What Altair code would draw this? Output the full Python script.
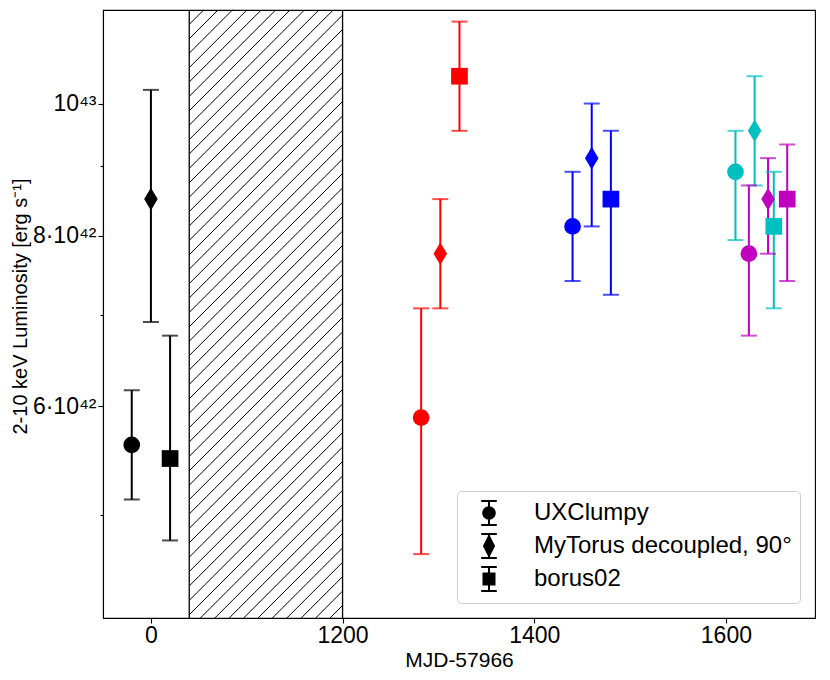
import altair as alt
import numpy as np
import pandas as pd

# ---------------- data ----------------
models = ["UXClumpy", "MyTorus decoupled, 90°", "borus02"]
epoch_days = [0, 1302, 1460, 1630, 1644]          # MJD-57966 of each epoch
epoch_colors = ["#000000", "#ff0000", "#0000ff", "#00bfbf", "#bf00bf"]
model_dodge_days = [-20, 0, 20]                   # small x dodge per model

# log10 of 2-10 keV luminosity, rows = epochs, cols = models
log_lum = [
    [42.75, 42.93, 42.74],
    [42.77, 42.89, 43.02],
    [42.91, 42.96, 42.93],
    [42.95, 42.98, 42.91],
    [42.89, 42.93, 42.93],
]
log_lum_hi = [
    [42.79, 43.01, 42.83],
    [42.85, 42.93, 43.06],
    [42.95, 43.00, 42.98],
    [42.98, 43.02, 42.95],
    [42.94, 42.96, 42.97],
]
log_lum_lo = [
    [42.71, 42.84, 42.68],
    [42.67, 42.85, 42.98],
    [42.87, 42.91, 42.86],
    [42.90, 42.94, 42.85],
    [42.83, 42.89, 42.87],
]

# broken x axis: early epoch shown shifted, the gap is hatched
BREAK_SHIFT = 1000
GAP = [1040, 1200]
x_tick_values = [1000, 1200, 1400, 1600]
x_tick_labels = ["0", "1200", "1400", "1600"]

# ---------------- layout ----------------
W, H = 712, 608
X_DOMAIN = [950, 1693]
LOG_DOMAIN = [42.6232, 43.0685]
Y_DOMAIN = [10 ** LOG_DOMAIN[0], 10 ** LOG_DOMAIN[1]]
FONT = "Liberation Sans"

rows = []
for e, day in enumerate(epoch_days):
    for m, name in enumerate(models):
        x = day + model_dodge_days[m]
        if day < GAP[0]:
            x += BREAK_SHIFT
        rows.append(dict(
            x=x, lum=10 ** log_lum[e][m], hi=10 ** log_lum_hi[e][m],
            lo=10 ** log_lum_lo[e][m], color=epoch_colors[e], model=name,
        ))
df = pd.DataFrame(rows)

# hatch lines ("/") inside the gap, 45 deg on screen
sx = W / (X_DOMAIN[1] - X_DOMAIN[0])
X0 = (GAP[0] - X_DOMAIN[0]) * sx
X1 = (GAP[1] - X_DOMAIN[0]) * sx
spacing = 14.4


def to_data(px, py):
    return (X_DOMAIN[0] + px / sx,
            10 ** (LOG_DOMAIN[0] + py / H * (LOG_DOMAIN[1] - LOG_DOMAIN[0])))


hatch = []
c = X0 - H
while c < X1:
    ps = max(X0, c)
    pe = min(X1, c + H)
    if pe > ps:
        xa, ya = to_data(ps, ps - c)
        xb, yb = to_data(pe, pe - c)
        hatch.append(dict(x=xa, y=ya, x2=xb, y2=yb))
    c += spacing
hatch_df = pd.DataFrame(hatch)
gap_df = pd.DataFrame({"x": GAP})

xs = alt.Scale(domain=X_DOMAIN, nice=False, zero=False)
ys = alt.Scale(type="log", domain=Y_DOMAIN, nice=False)

label_expr_x = "{" + ",".join(f"'{v}':'{l}'" for v, l in zip(x_tick_values, x_tick_labels)) + "}[datum.value]"

x_axis = alt.Axis(
    values=x_tick_values, labelExpr=label_expr_x, title="MJD-57966",
    grid=False, tickSize=5, labelPadding=1, titlePadding=2,
)
y_axis = alt.Axis(
    values=[5e42, 6e42, 7e42, 8e42, 9e42, 1e43],
    labelExpr="round(datum.value/1e41)==100 ? '10⁴³' : (round(datum.value/1e41)%20==0 ? round(datum.value/1e42)+'·10⁴²' : '')",
    title="2-10 keV Luminosity [erg s⁻¹]",
    grid=False,
    tickSize={"condition": {"test": "round(datum.value/1e41)%20==0", "value": 5}, "value": 3},
    labelPadding=2,
    titleX=-76.5, titleY=296, titleAngle=270, titleAlign="center",
    titleBaseline="alphabetic", titleFontSize=20,
)

hatch_layer = alt.Chart(hatch_df).mark_rule(color="black", strokeWidth=1).encode(
    x=alt.X("x:Q", scale=xs, axis=x_axis), x2="x2:Q",
    y=alt.Y("y:Q", scale=ys, axis=y_axis), y2="y2:Q",
)
gap_edges = alt.Chart(gap_df).mark_rule(color="black", strokeWidth=1.3).encode(
    x=alt.X("x:Q", scale=xs),
)
bars = alt.Chart(df).mark_rule(strokeWidth=2).encode(
    x=alt.X("x:Q", scale=xs), y=alt.Y("lo:Q", scale=ys), y2="hi:Q",
    color=alt.Color("color:N", scale=None),
)
cap_lo = alt.Chart(df).mark_tick(orient="horizontal", size=16, thickness=2).encode(
    x=alt.X("x:Q", scale=xs), y=alt.Y("lo:Q", scale=ys),
    color=alt.Color("color:N", scale=None),
)
cap_hi = alt.Chart(df).mark_tick(orient="horizontal", size=16, thickness=2).encode(
    x=alt.X("x:Q", scale=xs), y=alt.Y("hi:Q", scale=ys),
    color=alt.Color("color:N", scale=None),
)
DIAMOND = "M0,-1.35L0.81,0L0,1.35L-0.81,0Z"
points = alt.Chart(df).mark_point(filled=True, size=279, opacity=1).encode(
    x=alt.X("x:Q", scale=xs), y=alt.Y("lum:Q", scale=ys),
    color=alt.Color("color:N", scale=None),
    shape=alt.Shape("model:N", scale=alt.Scale(domain=models, range=["circle", DIAMOND, "square"]), legend=None),
)

# legend glyphs: error-bar stem + caps (as filled shapes) + marker
BAR = ("M-0.077,-1L0.077,-1L0.077,1L-0.077,1Z"
       "M-0.6,-1L0.6,-1L0.6,-0.85L-0.6,-0.85Z"
       "M-0.6,0.85L0.6,0.85L0.6,1L-0.6,1Z")
LEG_PATHS = [
    BAR + "M-0.52,0A0.52,0.52,0,1,1,0.52,0A0.52,0.52,0,1,1,-0.52,0Z",
    BAR + "M0,-0.92L0.47,0L0,0.92L-0.47,0Z",
    BAR + "M-0.5,-0.5L0.5,-0.5L0.5,0.5L-0.5,0.5Z",
]
legend_df = pd.DataFrame({"legend_model": models})
legend_layer = alt.Chart(legend_df).mark_point(
    filled=True, fill="black", opacity=0
).encode(
    x=alt.value(0), y=alt.value(0),
    shape=alt.Shape(
        "legend_model:N",
        scale=alt.Scale(domain=models, range=LEG_PATHS),
        legend=alt.Legend(
            title=None, orient="none", legendX=354, legendY=481,
            padding=8, cornerRadius=4, strokeColor="#cccccc", fillColor="white",
            symbolSize=676, symbolFillColor="black",
            symbolOpacity=1, symbolOffset=10, labelOffset=31,
            labelFont=FONT, labelFontSize=24, labelColor="black", rowPadding=1,
            labelLimit=400,
        ),
    ),
)

chart = alt.layer(
    hatch_layer, gap_edges, bars, cap_lo, cap_hi, points, legend_layer
).resolve_scale(shape="independent").properties(
    width=W, height=H,
    background="white",
    autosize=alt.AutoSizeParams(type="none"),
    padding={"left": 95, "top": 2, "right": 7, "bottom": 52},
).configure_view(
    stroke="black", strokeWidth=1.1
).configure_axis(
    labelFont=FONT, titleFont=FONT, labelFontSize=23, titleFontSize=21,
    labelColor="black", titleColor="black", titleFontWeight="normal",
    domainColor="black", domainWidth=1.1, tickColor="black", tickWidth=1.1,
)

chart.save("out.html", embed_options={"renderer": "svg", "actions": False})
